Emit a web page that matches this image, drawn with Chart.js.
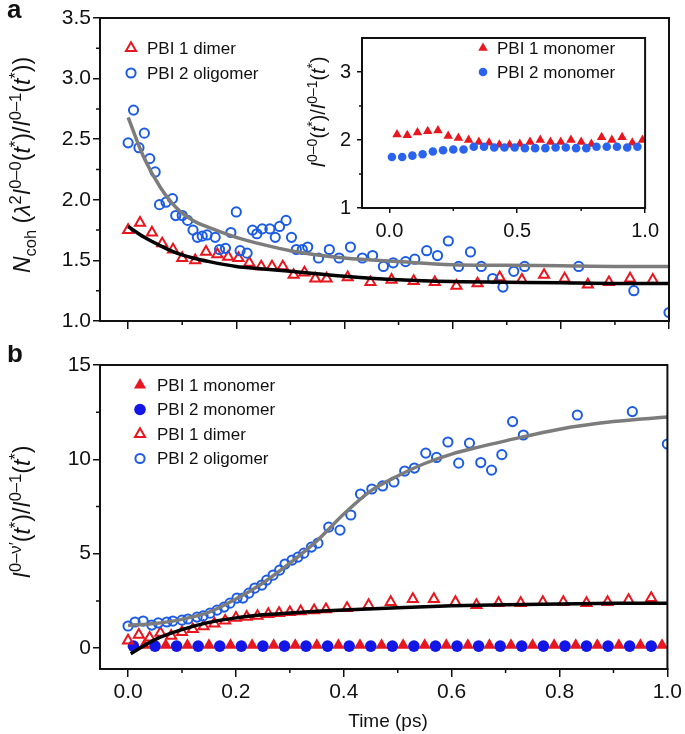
<!DOCTYPE html>
<html lang="en">
<head>
<meta charset="UTF-8" />
<title>Coherence size and vibronic ratios vs time</title>
<style>
    html, body {
        margin: 0;
        padding: 0;
        background: #fff;
    }
    body {
        width: 685px;
        height: 734px;
        position: relative;
        overflow: hidden;
    }
    canvas { position: absolute; }
    #chartA { left: 0; top: 0; }
    #chartB { left: 0; top: 345px; }
    #inset { left: 300px; top: 20px; }
</style>
<script src="https://cdn.jsdelivr.net/npm/chart.js@4/dist/chart.umd.min.js"></script>
</head>
<body>
<canvas id="chartA" width="685" height="345"></canvas>
<canvas id="chartB" width="685" height="389"></canvas>
<canvas id="inset" width="365" height="225"></canvas>
<script>
// ---- panel a : N_coh ----
const aOligT = [0.0, 0.01, 0.02, 0.03, 0.04, 0.05, 0.058, 0.07, 0.082, 0.088, 0.10, 0.11, 0.12, 0.128, 0.137, 0.146, 0.161, 0.169, 0.18, 0.19, 0.20, 0.207, 0.22, 0.23, 0.238, 0.248, 0.262, 0.272, 0.28, 0.292, 0.302, 0.311, 0.322, 0.332, 0.352, 0.372, 0.39, 0.411, 0.433, 0.452, 0.472, 0.49, 0.513, 0.53, 0.552, 0.572, 0.592, 0.611, 0.633, 0.653, 0.674, 0.693, 0.713, 0.733, 0.833, 0.935, 1.0];
const aOligV = [2.47, 2.74, 2.43, 2.55, 2.34, 2.23, 1.96, 1.98, 2.01, 1.87, 1.87, 1.83, 1.75, 1.69, 1.70, 1.71, 1.69, 1.59, 1.60, 1.73, 1.90, 1.58, 1.56, 1.75, 1.72, 1.76, 1.76, 1.69, 1.78, 1.83, 1.69, 1.59, 1.59, 1.61, 1.52, 1.59, 1.52, 1.61, 1.52, 1.54, 1.45, 1.48, 1.49, 1.51, 1.58, 1.54, 1.66, 1.45, 1.57, 1.45, 1.35, 1.28, 1.41, 1.45, 1.45, 1.25, 1.07];
const aDimT = [0.0, 0.022, 0.044, 0.063, 0.083, 0.10, 0.124, 0.144, 0.165, 0.185, 0.204, 0.224, 0.246, 0.266, 0.286, 0.306, 0.326, 0.346, 0.367, 0.406, 0.448, 0.487, 0.528, 0.567, 0.607, 0.646, 0.687, 0.728, 0.769, 0.807, 0.85, 0.889, 0.928, 0.97];
const aDimV = [1.75, 1.81, 1.73, 1.64, 1.59, 1.52, 1.50, 1.57, 1.55, 1.53, 1.52, 1.48, 1.45, 1.45, 1.45, 1.38, 1.40, 1.35, 1.35, 1.36, 1.32, 1.34, 1.33, 1.32, 1.29, 1.31, 1.36, 1.34, 1.38, 1.35, 1.30, 1.32, 1.35, 1.34];
const aFitT = [0, 0.03, 0.06, 0.09, 0.12, 0.15, 0.2, 0.25, 0.3, 0.4, 0.5, 0.6, 0.7, 0.8, 0.9, 1.0];
const aOligFit = [2.68, 2.34, 2.10, 1.93, 1.83, 1.77, 1.69, 1.63, 1.58, 1.52, 1.49, 1.465, 1.46, 1.455, 1.45, 1.45];
const aDimFit = [1.78, 1.69, 1.62, 1.56, 1.52, 1.49, 1.45, 1.43, 1.41, 1.37, 1.34, 1.325, 1.32, 1.315, 1.31, 1.31];
const aYTicks = [1.0, 1.5, 2.0, 2.5, 3.0, 3.5];
const aYMinor = [1.25, 1.75, 2.25, 2.75, 3.25];

// ---- inset : monomers ----
const inTriT = [0.03, 0.07, 0.11, 0.15, 0.19, 0.23, 0.27, 0.31, 0.35, 0.39, 0.43, 0.47, 0.51, 0.55, 0.59, 0.63, 0.67, 0.71, 0.75, 0.79, 0.83, 0.87, 0.91, 0.95, 0.99];
const inTriV = [2.08, 2.07, 2.11, 2.13, 2.14, 2.06, 2.03, 2.00, 1.97, 1.96, 1.93, 1.93, 1.94, 1.97, 2.00, 1.97, 1.97, 2.00, 1.97, 1.94, 2.04, 2.00, 2.04, 1.96, 2.00];
const inCircT = [0.01, 0.05, 0.09, 0.13, 0.17, 0.21, 0.25, 0.29, 0.33, 0.37, 0.41, 0.45, 0.49, 0.53, 0.57, 0.61, 0.65, 0.69, 0.73, 0.77, 0.81, 0.85, 0.89, 0.93, 0.97];
const inCircV = [1.75, 1.75, 1.77, 1.79, 1.83, 1.85, 1.86, 1.86, 1.90, 1.90, 1.89, 1.89, 1.89, 1.88, 1.88, 1.88, 1.89, 1.89, 1.88, 1.88, 1.90, 1.90, 1.90, 1.89, 1.90];

// ---- panel b : I(0-v')/I(0-1) ----
const bOligT = [0, 0.013, 0.028, 0.044, 0.056, 0.072, 0.083, 0.1, 0.111, 0.128, 0.139, 0.152, 0.165, 0.178, 0.189, 0.202, 0.213, 0.224, 0.235, 0.248, 0.257, 0.269, 0.281, 0.291, 0.304, 0.315, 0.326, 0.34, 0.352, 0.372, 0.393, 0.413, 0.431, 0.452, 0.472, 0.493, 0.513, 0.531, 0.552, 0.572, 0.593, 0.613, 0.633, 0.654, 0.674, 0.693, 0.713, 0.733, 0.833, 0.935, 1.0];
const bOligV = [1.17, 1.38, 1.43, 1.22, 1.33, 1.38, 1.43, 1.48, 1.54, 1.64, 1.70, 1.85, 2.01, 2.17, 2.38, 2.65, 2.65, 2.91, 3.18, 3.34, 3.60, 3.87, 4.13, 4.45, 4.66, 4.82, 5.03, 5.35, 5.56, 6.41, 6.25, 7.05, 8.16, 8.43, 8.59, 8.80, 9.38, 9.54, 10.33, 10.10, 10.92, 9.80, 10.86, 9.83, 9.43, 10.25, 12.0, 11.29, 12.35, 12.53, 10.81];
const bDimT = [0.0, 0.02, 0.04, 0.06, 0.08, 0.1, 0.12, 0.14, 0.16, 0.18, 0.2, 0.22, 0.24, 0.26, 0.28, 0.3, 0.32, 0.345, 0.367, 0.406, 0.446, 0.487, 0.528, 0.567, 0.607, 0.646, 0.687, 0.728, 0.769, 0.807, 0.85, 0.889, 0.928, 0.97];
const bDimV = [0.4, 0.7, 0.55, 0.8, 0.65, 0.85, 1.0, 1.15, 1.3, 1.45, 1.6, 1.65, 1.7, 1.8, 1.85, 1.9, 1.95, 2.0, 2.05, 2.12, 2.28, 2.44, 2.6, 2.6, 2.44, 2.28, 2.38, 2.38, 2.44, 2.44, 2.38, 2.44, 2.54, 2.65];
const bMonoTriT = inTriT;
const bMonoTriV = [0.15, 0.15, 0.15, 0.15, 0.15, 0.15, 0.15, 0.15, 0.15, 0.15, 0.15, 0.15, 0.15, 0.15, 0.15, 0.15, 0.15, 0.15, 0.15, 0.15, 0.15, 0.15, 0.15, 0.15, 0.15];
const bMonoCircT = inCircT;
const bMonoCircV = [0.1, 0.1, 0.1, 0.1, 0.1, 0.1, 0.1, 0.1, 0.1, 0.1, 0.1, 0.1, 0.1, 0.1, 0.1, 0.1, 0.1, 0.1, 0.1, 0.1, 0.1, 0.1, 0.1, 0.1, 0.1];
const bFitT = [0, 0.05, 0.1, 0.15, 0.2, 0.25, 0.3, 0.35, 0.4, 0.45, 0.5, 0.55, 0.6, 0.65, 0.7, 0.8, 0.9, 1.0];
const bOligFit = [1.2, 1.3, 1.52, 1.9, 2.6, 3.45, 4.5, 5.68, 7.1, 8.33, 9.12, 9.78, 10.28, 10.65, 10.98, 11.6, 12.0, 12.24];
const bDimFitT = [0.005, 0.05, 0.1, 0.15, 0.2, 0.25, 0.3, 0.35, 0.4, 0.5, 0.6, 0.7, 0.8, 0.9, 1.0];
const bDimFit = [-0.3, 0.45, 0.98, 1.36, 1.6, 1.76, 1.86, 1.95, 2.02, 2.14, 2.24, 2.3, 2.34, 2.37, 2.38];
const bYTicks = [0, 5, 10, 15];
const bYMinor = [2.5, 7.5, 12.5];

const timeTicks = [0, 0.2, 0.4, 0.6, 0.8, 1.0];
const timeMinor = [0.1, 0.3, 0.5, 0.7, 0.9];

const RED = '#e8161e';
const BLUE = '#1c5ce4';
const BLUE_DOT = '#1216e6';
const BLUE_INSET = '#2a64ee';
const GRAY = '#7c7c7c';
const INK = '#111';
const FONT = "'Liberation Sans', Arial, sans-serif";

function pts(xs, ys) {
    return xs.map((x, i) => ({ x: x, y: ys[i] }));
}

function axis(o) {
    return {
        type: 'linear',
        min: o.min,
        max: o.max,
        afterBuildTicks: s => { s.ticks = o.ticks.map(v => ({ value: v })); },
        afterFit: s => {
            if (o.w != null) s.width = o.w;
            if (o.h != null) s.height = o.h;
        },
        ticks: {
            display: o.labels !== false,
            callback: o.fmt,
            color: INK,
            font: { family: FONT, size: o.fs || 21 },
            padding: o.pad || 2,
            maxRotation: 0,
            autoSkip: false
        },
        grid: { drawOnChartArea: false, drawTicks: true, tickLength: o.tl, color: INK, lineWidth: 1.5 },
        border: { display: true, color: INK, width: 2 }
    };
}

function scatterSet(label, data, style, color, filled, r, bw) {
    return {
        label: label,
        data: data,
        pointStyle: style,
        pointRadius: r,
        pointBorderWidth: bw,
        pointBorderColor: color,
        pointBackgroundColor: filled ? color : 'rgba(0,0,0,0)',
        showLine: false
    };
}

function fitSet(label, data, color) {
    return {
        label: label,
        data: data,
        showLine: true,
        borderColor: color,
        borderWidth: 3.5,
        pointRadius: 0,
        cubicInterpolationMode: 'monotone'
    };
}

// text with italics, sub- and superscripts, optionally turned 90 degrees
function drawRich(ctx, segs, cx, cy, size, rotate) {
    const parts = segs.map(s => {
        const fs = (s.sup || s.sub) ? size * 0.72 : size;
        const font = (s.i ? 'italic ' : '') + fs + 'px ' + FONT;
        ctx.font = font;
        return { t: s.t, font: font, w: ctx.measureText(s.t).width, dy: s.sup ? -size * 0.4 : (s.sub ? size * 0.25 : 0) };
    });
    const total = parts.reduce((a, p) => a + p.w, 0);
    ctx.save();
    ctx.translate(cx, cy);
    if (rotate) ctx.rotate(-Math.PI / 2);
    ctx.fillStyle = INK;
    ctx.textBaseline = 'alphabetic';
    let x = -total / 2;
    parts.forEach(p => {
        ctx.font = p.font;
        ctx.fillText(p.t, x, p.dy + size * 0.36);
        x += p.w;
    });
    ctx.restore();
}

const decor = {
    id: 'decor',
    afterDraw(chart, args, o) {
        const ctx = chart.ctx;
        const a = chart.chartArea;
        const sx = chart.scales.x, sy = chart.scales.y;
        ctx.save();
        ctx.strokeStyle = INK;
        ctx.lineWidth = 2;
        ctx.strokeRect(a.left, a.top, a.right - a.left, a.bottom - a.top);
        ctx.lineWidth = 1.5;
        ctx.beginPath();
        (o.minorX || []).forEach(v => {
            const x = sx.getPixelForValue(v);
            ctx.moveTo(x, a.bottom);
            ctx.lineTo(x, a.bottom + o.minorLen);
        });
        (o.minorY || []).forEach(v => {
            const y = sy.getPixelForValue(v);
            ctx.moveTo(a.left, y);
            ctx.lineTo(a.left - o.minorLen, y);
        });
        ctx.stroke();

        // legend
        (o.legend || []).forEach((it, k) => {
            const y = o.legY + k * o.legDy;
            ctx.save();
            ctx.fillStyle = it.filled ? it.color : 'rgba(0,0,0,0)';
            ctx.strokeStyle = it.color;
            ctx.lineWidth = it.bw;
            Chart.helpers.drawPoint(ctx, { pointStyle: it.style, radius: it.r, rotation: 0, borderWidth: it.bw }, o.legX, y);
            ctx.restore();
            ctx.fillStyle = INK;
            ctx.font = '17px ' + FONT;
            ctx.textBaseline = 'middle';
            ctx.fillText(it.label, o.legX + o.legGap, y + 1);
        });

        (o.texts || []).forEach(t => {
            ctx.fillStyle = INK;
            ctx.font = t.font;
            ctx.textAlign = t.align || 'left';
            ctx.textBaseline = 'alphabetic';
            ctx.fillText(t.text, t.x, t.y);
        });
        ctx.textAlign = 'left';
        if (o.rich) drawRich(ctx, o.rich.segs, o.rich.x, o.rich.y, o.rich.size, true);
        ctx.restore();
    }
};

const fmt1 = v => v.toFixed(1);
const fmt0 = v => String(v);

// ---------- panel a ----------
new Chart(document.getElementById('chartA'), {
    type: 'scatter',
    data: {
        datasets: [
            fitSet('PBI 2 oligomer fit', pts(aFitT, aOligFit), GRAY),
            fitSet('PBI 1 dimer fit', pts(aFitT, aDimFit), '#000'),
            scatterSet('PBI 2 oligomer', pts(aOligT, aOligV), 'circle', BLUE, false, 4.6, 2),
            scatterSet('PBI 1 dimer', pts(aDimT, aDimV), 'triangle', RED, false, 5.8, 2)
        ]
    },
    options: {
        responsive: false,
        animation: false,
        layout: { padding: { left: 0, top: 18, right: 16, bottom: 0 } },
        plugins: {
            legend: { display: false },
            tooltip: { enabled: false },
            decor: {
                minorX: timeMinor, minorY: aYMinor, minorLen: 4,
                legX: 131, legY: 48, legDy: 25, legGap: 16,
                legend: [
                    { label: 'PBI 1 dimer', style: 'triangle', color: RED, filled: false, r: 5.8, bw: 2 },
                    { label: 'PBI 2 oligomer', style: 'circle', color: BLUE, filled: false, r: 4.6, bw: 2 }
                ],
                texts: [{ text: 'a', x: 7, y: 18, font: 'bold 26px ' + FONT }],
                rich: {
                    x: 22, y: 165, size: 23,
                    segs: [
                        { t: 'N', i: 1 }, { t: 'coh', sub: 1 }, { t: ' (' }, { t: 'λ', i: 1 }, { t: '2', sup: 1 },
                        { t: 'I', i: 1 }, { t: '0–0', sup: 1 }, { t: '(' }, { t: 't', i: 1 }, { t: '*', sup: 1 },
                        { t: ')/' }, { t: 'I', i: 1 }, { t: '0–1', sup: 1 }, { t: '(' }, { t: 't', i: 1 },
                        { t: '*', sup: 1 }, { t: '))' }
                    ]
                }
            }
        },
        scales: {
            x: axis({ min: -0.052, max: 1.0, ticks: timeTicks, labels: false, tl: 8, h: 24 }),
            y: axis({ min: 1.0, max: 3.5, ticks: aYTicks, fmt: fmt1, tl: 7, w: 100, pad: 2 })
        }
    },
    plugins: [decor]
});

// ---------- inset ----------
new Chart(document.getElementById('inset'), {
    type: 'scatter',
    data: {
        datasets: [
            scatterSet('PBI 2 monomer', pts(inCircT, inCircV), 'circle', BLUE_INSET, true, 4.3, 0),
            scatterSet('PBI 1 monomer', pts(inTriT, inTriV), 'triangle', RED, true, 5.5, 0)
        ]
    },
    options: {
        responsive: false,
        animation: false,
        layout: { padding: { left: 0, top: 9, right: 13, bottom: 0 } },
        plugins: {
            legend: { display: false },
            tooltip: { enabled: false },
            decor: {
                minorX: [0.25, 0.75], minorY: [1.5, 2.5], minorLen: 3,
                legX: 183, legY: 28, legDy: 24, legGap: 14,
                legend: [
                    { label: 'PBI 1 monomer', style: 'triangle', color: RED, filled: true, r: 5.5, bw: 0 },
                    { label: 'PBI 2 monomer', style: 'circle', color: BLUE_INSET, filled: true, r: 4.3, bw: 0 }
                ],
                rich: {
                    x: 18, y: 92, size: 19.5,
                    segs: [
                        { t: 'I', i: 1 }, { t: '0–0', sup: 1 }, { t: '(' }, { t: 't', i: 1 }, { t: '*', sup: 1 },
                        { t: ')/' }, { t: 'I', i: 1 }, { t: '0–1', sup: 1 }, { t: '(' }, { t: 't', i: 1 },
                        { t: '*', sup: 1 }, { t: ')' }
                    ]
                }
            }
        },
        scales: {
            x: axis({ min: -0.107, max: 1.0, ticks: [0, 0.5, 1.0], fmt: fmt1, tl: 5, h: 37, fs: 20, pad: 6 }),
            y: axis({ min: 1, max: 3.5, ticks: [1, 2, 3], fmt: fmt0, tl: 5, w: 62, fs: 20, pad: 6 })
        }
    },
    plugins: [decor]
});

// ---------- panel b ----------
new Chart(document.getElementById('chartB'), {
    type: 'scatter',
    data: {
        datasets: [
            fitSet('PBI 2 oligomer fit', pts(bFitT, bOligFit), GRAY),
            fitSet('PBI 1 dimer fit', pts(bDimFitT, bDimFit), '#000'),
            scatterSet('PBI 2 oligomer', pts(bOligT, bOligV), 'circle', BLUE, false, 4.6, 2),
            scatterSet('PBI 1 dimer', pts(bDimT, bDimV), 'triangle', RED, false, 5.8, 2),
            scatterSet('PBI 2 monomer', pts(bMonoCircT, bMonoCircV), 'circle', BLUE_DOT, true, 5.8, 0),
            scatterSet('PBI 1 monomer', pts(bMonoTriT, bMonoTriV), 'triangle', RED, true, 7, 0)
        ]
    },
    options: {
        responsive: false,
        animation: false,
        layout: { padding: { left: 0, top: 20, right: 16, bottom: 0 } },
        plugins: {
            legend: { display: false },
            tooltip: { enabled: false },
            decor: {
                minorX: timeMinor, minorY: bYMinor, minorLen: 4,
                legX: 140, legY: 40, legDy: 24.5, legGap: 17,
                legend: [
                    { label: 'PBI 1 monomer', style: 'triangle', color: RED, filled: true, r: 7, bw: 0 },
                    { label: 'PBI 2 monomer', style: 'circle', color: BLUE_DOT, filled: true, r: 5.8, bw: 0 },
                    { label: 'PBI 1 dimer', style: 'triangle', color: RED, filled: false, r: 5.8, bw: 2 },
                    { label: 'PBI 2 oligomer', style: 'circle', color: BLUE, filled: false, r: 4.6, bw: 2 }
                ],
                texts: [
                    { text: 'b', x: 7, y: 17, font: 'bold 26px ' + FONT },
                    { text: 'Time (ps)', x: 388, y: 382, font: '19px ' + FONT, align: 'center' }
                ],
                rich: {
                    x: 22, y: 167, size: 23,
                    segs: [
                        { t: 'I', i: 1 }, { t: '0–ν′', sup: 1 }, { t: '(' }, { t: 't', i: 1 }, { t: '*', sup: 1 },
                        { t: ')/' }, { t: 'I', i: 1 }, { t: '0–1', sup: 1 }, { t: '(' }, { t: 't', i: 1 },
                        { t: '*', sup: 1 }, { t: ')' }
                    ]
                }
            }
        },
        scales: {
            x: axis({ min: -0.052, max: 1.0, ticks: timeTicks, fmt: fmt1, tl: 8, h: 65, pad: 3 }),
            y: axis({ min: -1.11, max: 15, ticks: bYTicks, fmt: fmt0, tl: 7, w: 100, pad: 2 })
        }
    },
    plugins: [decor]
});
</script>
</body>
</html>
